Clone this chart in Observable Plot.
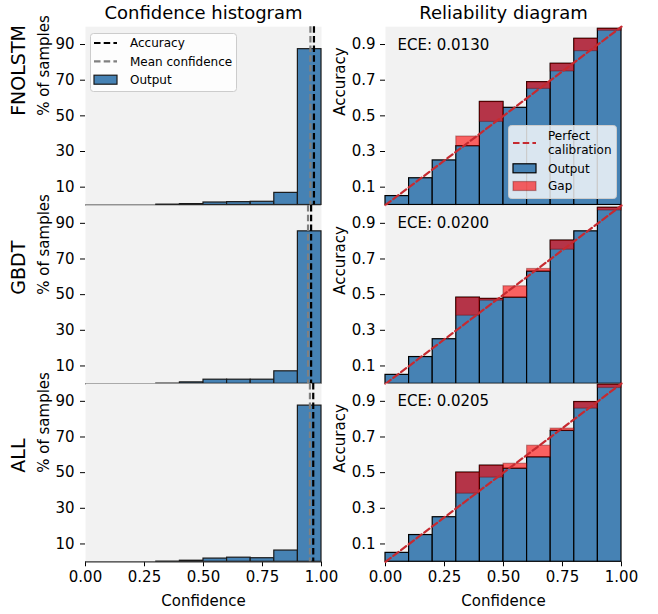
<!DOCTYPE html>
<html>
<head>
<meta charset="utf-8">
<script src="https://cdn.jsdelivr.net/npm/d3@7"></script>
<script src="https://cdn.jsdelivr.net/npm/@observablehq/plot@0.6"></script>
<style>
  html, body { margin: 0; padding: 0; background: #fff; }
  #fig { position: relative; width: 658px; height: 614px; font-family: "DejaVu Sans", sans-serif; }
  #fig .cell { position: absolute; }
  #fig svg { overflow: visible; }
</style>
</head>
<body>
<div id="fig"></div>
<script>
// ---- data -------------------------------------------------------------
const models = ["FNOLSTM", "GBDT", "ALL"];
const binLower = [0.0, 0.1, 0.2, 0.3, 0.4, 0.5, 0.6, 0.7, 0.8, 0.9];
const binUpper = [0.1, 0.2, 0.3, 0.4, 0.5, 0.6, 0.7, 0.8, 0.9, 1.0];

// % of samples falling in each confidence bin
const samplesFNOLSTM = [0, 0, 0, 0.2, 0.5, 1.4, 1.6, 1.8, 6.8, 87.4];
const samplesGBDT    = [0, 0, 0, 0.1, 0.8, 2.3, 2.3, 2.3, 7.0, 85.5];
const samplesALL     = [0, 0, 0, 0.1, 0.6, 1.8, 2.3, 2.0, 6.3, 87.6];

// per-bin accuracy and mean confidence
const accFNOLSTM  = [0.05, 0.15, 0.25, 0.330, 0.578, 0.545, 0.689, 0.792, 0.932, 0.988];
const confFNOLSTM = [0.05, 0.15, 0.25, 0.384, 0.466, 0.545, 0.651, 0.749, 0.863, 0.977];
const accGBDT     = [0.05, 0.15, 0.25, 0.483, 0.476, 0.483, 0.629, 0.803, 0.855, 0.987];
const confGBDT    = [0.05, 0.15, 0.25, 0.382, 0.466, 0.547, 0.644, 0.752, 0.855, 0.972];
const accALL      = [0.05, 0.15, 0.25, 0.500, 0.539, 0.522, 0.586, 0.734, 0.896, 0.993];
const confALL     = [0.05, 0.15, 0.25, 0.382, 0.472, 0.550, 0.651, 0.747, 0.859, 0.975];

const overallAccuracy = [0.968, 0.956, 0.965];
const meanConfidence  = [0.953, 0.943, 0.951];
const eceValues       = [0.0130, 0.0200, 0.0205];

const confidenceTicks = [0, 0.25, 0.5, 0.75, 1];
const sampleTicks     = [10, 30, 50, 70, 90];
const accuracyTicks   = [0.1, 0.3, 0.5, 0.7, 0.9];
const perfectCalibration = [0, 1];

const samplesByModel = [samplesFNOLSTM, samplesGBDT, samplesALL];
const accByModel     = [accFNOLSTM, accGBDT, accALL];
const confByModel    = [confFNOLSTM, confGBDT, confALL];

// ---- layout -----------------------------------------------------------
const BLUE = "#4682b4";
const PANEL_BG = "#f2f2f2";
const DIAG = "#c62a30";
const DASH = "6.5,3.2";
const FIG_H = 614;
const PW = 236, PH = 178.3;
const rowTop = [26.2, 204.5, 382.8];
const histLeft = 85, relLeft = 385;

const fig = document.getElementById("fig");
function place(node, left, top, width) {
  const wrap = document.createElement("div");
  wrap.className = "cell";
  wrap.style.left = left + "px";
  wrap.style.top = top + "px";
  wrap.style.width = width + "px";
  wrap.appendChild(node);
  fig.appendChild(wrap);
}

const baseStyle = {
  background: "transparent",
  overflow: "visible",
  fontFamily: "DejaVu Sans, sans-serif",
  fontSize: "15px",
  color: "#000"
};

models.forEach((model, i) => {
  const last = i === models.length - 1;
  const mt = i === 0 ? rowTop[0] : 2;
  const mb = last ? FIG_H - (rowTop[i] + PH) : 2;
  const height = mt + PH + mb;

  const xScale = {
    domain: [0, 1],
    axis: last ? "bottom" : null,
    ticks: confidenceTicks,
    tickFormat: d3.format(".2f"),
    tickSize: 5,
    tickPadding: 5,
    label: null
  };

  // ---------- confidence histogram ----------
  const hist = binLower.map((lo, k) => ({lo, hi: binUpper[k], base: 0, pct: samplesByModel[i][k]}))
    .filter(d => d.pct > 0);

  const histMarks = [
    Plot.frame({fill: PANEL_BG, stroke: "none"}),
    Plot.rect(hist, {x1: "lo", x2: "hi", y1: "base", y2: "pct", fill: BLUE, stroke: "#1a1a1a", strokeWidth: 1.2}),
    Plot.ruleY([0], {stroke: "#333", strokeWidth: 1.2}),
    Plot.ruleX([overallAccuracy[i]], {stroke: "#000", strokeWidth: 2.2, strokeDasharray: DASH}),
    Plot.ruleX([meanConfidence[i]], {stroke: "#808080", strokeWidth: 2.2, strokeDasharray: DASH}),
    Plot.text([model], {frameAnchor: "left", dx: -67, rotate: -90, fontSize: 19, lineAnchor: "middle"}),
    Plot.text(["% of samples"], {frameAnchor: "left", dx: -41, rotate: -90, fontSize: 15, lineAnchor: "middle"})
  ];
  if (i === 0) histMarks.push(Plot.text(["Confidence histogram"], {frameAnchor: "top", dy: -8, lineAnchor: "bottom", fontSize: 18}));
  if (last) histMarks.push(Plot.text(["Confidence"], {frameAnchor: "bottom", dy: 44, lineAnchor: "bottom", fontSize: 15}));

  const histPlot = Plot.plot({
    width: histLeft + PW + 12,
    height,
    marginLeft: histLeft, marginRight: 12, marginTop: mt, marginBottom: mb,
    style: baseStyle,
    x: xScale,
    y: {domain: [0, 100], ticks: sampleTicks, tickSize: 5, tickPadding: 6, label: null},
    marks: histMarks
  });
  place(histPlot, 0, rowTop[i] - mt, histLeft + PW + 12);

  // ---------- reliability diagram ----------
  const bins = binLower.map((lo, k) => {
    const acc = accByModel[i][k], conf = confByModel[i][k];
    return {lo, hi: binUpper[k], base: 0, acc, lowEnd: Math.min(acc, conf), highEnd: Math.max(acc, conf)};
  });
  const gaps = bins.filter(d => d.highEnd - d.lowEnd > 0);

  const relMarks = [
    Plot.frame({fill: PANEL_BG, stroke: "none"}),
    Plot.rect(bins, {x1: "lo", x2: "hi", y1: "base", y2: "acc", fill: BLUE, stroke: "#000", strokeWidth: 1.2}),
    Plot.rect(gaps, {x1: "lo", x2: "hi", y1: "lowEnd", y2: "highEnd", fill: "red", fillOpacity: 0.6,
                     stroke: "#5a0000", strokeOpacity: 0.35, strokeWidth: 1.2}),
    Plot.line(perfectCalibration, {x: d => d, y: d => d, stroke: DIAG, strokeWidth: 2.2, strokeDasharray: DASH}),
    Plot.text([eceValues[i]], {frameAnchor: "top-left", dx: 12, dy: 23, lineAnchor: "bottom", textAnchor: "start",
                               fontSize: 15, text: d => `ECE: ${d.toFixed(4)}`}),
    Plot.text(["Accuracy"], {frameAnchor: "left", dx: -45, rotate: -90, fontSize: 15, lineAnchor: "middle"})
  ];
  if (i === 0) relMarks.push(Plot.text(["Reliability diagram"], {frameAnchor: "top", dy: -8, lineAnchor: "bottom", fontSize: 18}));
  if (last) relMarks.push(Plot.text(["Confidence"], {frameAnchor: "bottom", dy: 44, lineAnchor: "bottom", fontSize: 15}));

  const relML = 60;
  const relPlot = Plot.plot({
    width: relML + PW + 14,
    height,
    marginLeft: relML, marginRight: 14, marginTop: mt, marginBottom: mb,
    style: baseStyle,
    x: xScale,
    y: {domain: [0, 1], ticks: accuracyTicks, tickSize: 5, tickPadding: 5, label: null},
    marks: relMarks
  });
  place(relPlot, relLeft - relML, rowTop[i] - mt, relML + PW + 14);
});

// ---- legends ----------------------------------------------------------
const legendSvg = d3.create("svg")
  .attr("width", 658).attr("height", 614)
  .style("position", "absolute").style("left", 0).style("top", 0)
  .style("pointer-events", "none")
  .attr("font-family", "DejaVu Sans, sans-serif")
  .attr("font-size", 12);

function legendBox(x, y, w, h) {
  legendSvg.append("rect").attr("x", x).attr("y", y).attr("width", w).attr("height", h)
    .attr("rx", 3).attr("fill", "white").attr("fill-opacity", 0.8)
    .attr("stroke", "#cccccc").attr("stroke-width", 1);
}
function legendLine(x, y, color) {
  legendSvg.append("line").attr("x1", x).attr("x2", x + 23).attr("y1", y).attr("y2", y)
    .attr("stroke", color).attr("stroke-width", 2.2).attr("stroke-dasharray", DASH);
}
function legendPatch(x, y, fill, stroke, fillOpacity) {
  legendSvg.append("rect").attr("x", x).attr("y", y - 4.5).attr("width", 23).attr("height", 9)
    .attr("fill", fill).attr("fill-opacity", fillOpacity).attr("stroke", stroke).attr("stroke-width", 1.2);
}
function legendText(x, y, txt) {
  legendSvg.append("text").attr("x", x).attr("y", y).attr("dy", "0.35em").text(txt);
}

// histogram legend (top row)
legendBox(90.5, 33.5, 146, 58);
legendLine(94, 43, "#000");          legendText(130, 43, "Accuracy");
legendLine(94, 61.3, "#808080");     legendText(130, 61.3, "Mean confidence");
legendPatch(94, 79.7, BLUE, "#1a1a1a", 1); legendText(130, 79.7, "Output");

// reliability legend (top row)
legendBox(508.5, 125.5, 108, 73);
legendLine(513, 143, DIAG);
legendText(548, 135.7, "Perfect");
legendText(548, 150, "calibration");
legendPatch(513, 168.3, BLUE, "#000", 1); legendText(548, 168.3, "Output");
legendPatch(513, 186, "red", "rgba(90,0,0,0.35)", 0.6); legendText(548, 186, "Gap");

fig.appendChild(legendSvg.node());
</script>
</body>
</html>
